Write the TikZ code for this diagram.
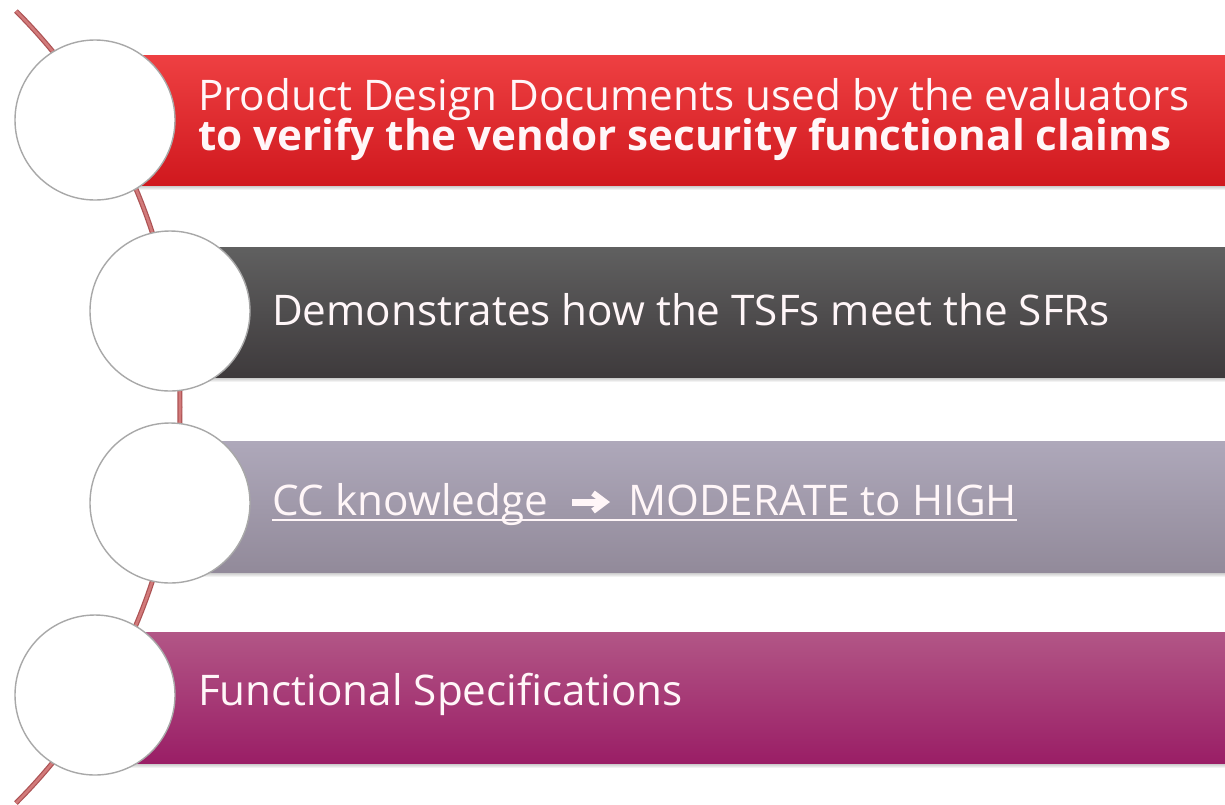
\documentclass[tikz,border=0pt]{standalone}
\usepackage{fontspec}
\usetikzlibrary{calc}
\setmainfont{Open Sans}
\definecolor{spineout}{RGB}{172,82,84}
\definecolor{spinein}{RGB}{210,122,122}
\definecolor{ringgray}{RGB}{168,168,168}
\definecolor{redtop}{RGB}{238,64,66}
\definecolor{redmid}{RGB}{228,30,36}
\definecolor{redbot}{RGB}{208,24,30}
\definecolor{graytop}{RGB}{96,96,96}
\definecolor{graymid}{RGB}{78,77,78}
\definecolor{graybot}{RGB}{62,58,60}
\definecolor{lavtop}{RGB}{174,168,186}
\definecolor{lavmid}{RGB}{162,156,174}
\definecolor{lavbot}{RGB}{146,138,154}
\definecolor{magtop}{RGB}{178,86,134}
\definecolor{magmid}{RGB}{172,48,124}
\definecolor{magbot}{RGB}{154,30,102}
\definecolor{labelwhite}{RGB}{255,246,248}
\begin{document}
\begin{tikzpicture}[x=1pt,y=-1pt,
  bubble/.style={circle, draw=ringgray, line width=1.4pt, fill=white,
    minimum size=160pt, inner sep=0pt},
  barshadow/.style={top color=black!30, bottom color=white},
  itemtext/.style={text=labelwhite, anchor=base west, inner sep=0pt,
    font=\fontsize{42.2}{50}\selectfont}]
\useasboundingbox (0,0) rectangle (1225,804);
\fill[white] (0,0) rectangle (1225,804);

% coloured bars with a soft shadow under each
\shade[barshadow] (95,184) rectangle (1225,190);
\shade[top color=redtop, middle color=redmid, bottom color=redbot] (95,55) rectangle (1225,185);
\shade[barshadow] (170,376) rectangle (1225,382);
\shade[top color=graytop, middle color=graymid, bottom color=graybot] (170,247) rectangle (1225,377);
\shade[barshadow] (170,571) rectangle (1225,577);
\shade[top color=lavtop, middle color=lavmid, bottom color=lavbot] (170,441) rectangle (1225,572);
\shade[barshadow] (95,762) rectangle (1225,768);
\shade[top color=magtop, middle color=magmid, bottom color=magbot] (95,632) rectangle (1225,763);

% curved spine running behind the circles
\coordinate (hub) at (-380,407);
\coordinate (spinetop) at ($(hub)+(-45:560)$);
\draw[spineout, line width=5pt] (spinetop) arc[start angle=-45, end angle=45, radius=560];
\draw[spinein, line width=2.6pt] (spinetop) arc[start angle=-45, end angle=45, radius=560];

% circles
\node[bubble] (c1) at (95,120) {};
\node[bubble] (c2) at (170,311) {};
\node[bubble] (c3) at (170,503) {};
\node[bubble] (c4) at (95,695) {};

% labels
\node[itemtext] (t1a) at (198,110) {Product Design Documents used by the evaluators};
\node[itemtext, font=\fontsize{42.2}{50}\selectfont\bfseries] (t1b) at (198,150) {to verify the vendor security functional claims};
\node[itemtext] (t2) at (272,325) {Demonstrates how the TSFs meet the SFRs};
\node[itemtext] (t3a) at (272,515) {CC knowledge};
\node[itemtext] (t3b) at (628,515) {MODERATE to HIGH};
\node[itemtext] (t4) at (198,705) {Functional Specifications};

% heavy arrow and underline of the third label
\coordinate (arrtail) at (572,502);
\coordinate (arrtip) at (608,502);
\draw[labelwhite, line width=7pt] (arrtail) -- ([xshift=-8pt]arrtip);
\draw[labelwhite, line width=6pt, line join=miter, miter limit=4]
  ([xshift=-15pt,yshift=-9pt]arrtip) -- ([xshift=-3pt]arrtip) -- ([xshift=-15pt,yshift=9pt]arrtip);
\draw[labelwhite, line width=1.6pt] ([yshift=-5pt]t3a.base west) -- ([yshift=-5pt]t3b.base east);
\end{tikzpicture}
\end{document}
